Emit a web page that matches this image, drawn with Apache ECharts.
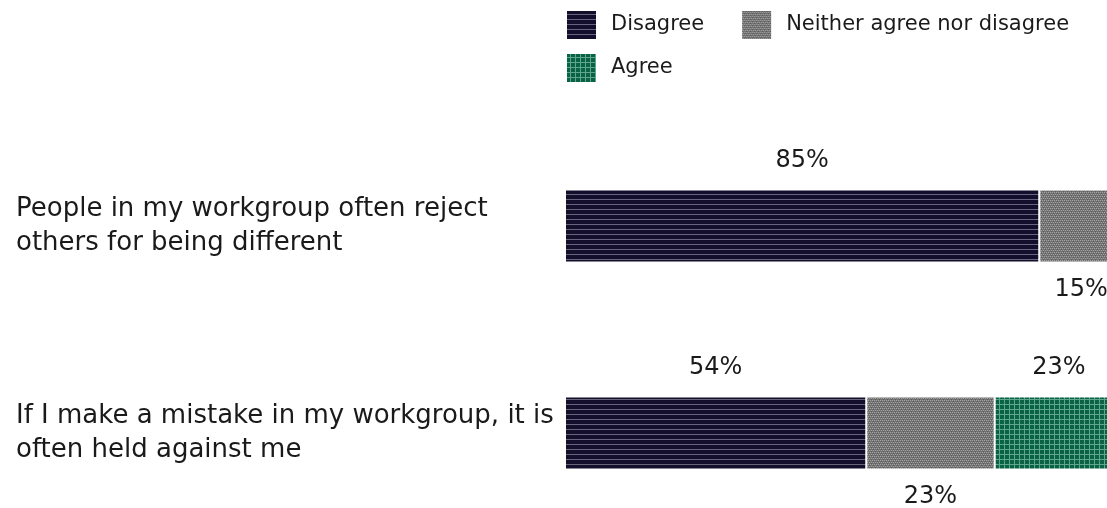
<!DOCTYPE html>
<html><head><meta charset="utf-8">
<script src="https://cdn.jsdelivr.net/npm/echarts@6/dist/echarts.min.js"></script>
<style>html,body{margin:0;padding:0;background:#fff;overflow:hidden}#c{width:1130px;height:540px}</style>
</head><body><div id="c"></div>
<script>
const categories = ['People in my workgroup often reject\nothers for being different', 'If I make a mistake in my workgroup, it is\noften held against me'];
const seriesNames = ['Disagree', 'Neither agree nor disagree', 'Agree'];
const disagree = [85, 54];
const neither = [15, 23];
const agree = [0, 23];
const labelPos = ['top', 'bottom', 'top'];

function pat(w, h, draw) {
  const c = document.createElement('canvas'); c.width = w; c.height = h;
  const g = c.getContext('2d'); draw(g, w, h); return c;
}
const pDis = pat(8, 5, (g, w, h) => { g.fillStyle = '#120e2c'; g.fillRect(0,0,w,h); g.fillStyle = '#67647c'; g.fillRect(0,4,w,1); });
const pNei = pat(4, 4, (g, w, h) => {
  g.fillStyle = '#727272'; g.fillRect(0,0,w,h);
  g.fillStyle = '#a3a3a3'; g.fillRect(0,0,1,1); g.fillRect(2,0,1,1); g.fillRect(1,2,1,1); g.fillRect(3,2,1,1);
  g.fillStyle = '#5a5a5a'; g.fillRect(1,1,1,1); g.fillRect(3,3,1,1);
});
const pAgr = pat(5, 5, (g, w, h) => { g.fillStyle = '#0a6246'; g.fillRect(0,0,w,h); g.fillStyle = '#5fa68a'; g.fillRect(4,0,1,h); g.fillRect(0,4,w,1); });
const pats = [pDis, pNei, pAgr];
const values = [disagree, neither, agree];

const chart = echarts.init(document.getElementById('c'), null, {renderer: 'canvas'});
const font = '"DejaVu Sans", sans-serif';
const legTxt = {fontSize: 21, color: '#1a1a1a', padding: [0, 0, 0, 9], fontFamily: font};
chart.setOption({
  animation: false,
  textStyle: {fontFamily: font},
  legend: [
    {data: seriesNames.slice(0, 2), icon: 'rect', left: 565, top: 9, padding: 0, itemWidth: 31, itemHeight: 30, itemGap: 36, textStyle: legTxt},
    {data: seriesNames.slice(2), icon: 'rect', left: 565, top: 52, padding: 0, itemWidth: 31, itemHeight: 30, textStyle: legTxt}
  ],
  grid: {left: 565, width: 558, top: 122.5, height: 414, containLabel: false},
  xAxis: {type: 'value', min: 0, max: 100, show: false},
  yAxis: {type: 'category', data: categories, inverse: true,
    axisLine: {show: false}, axisTick: {show: false},
    axisLabel: {align: 'left', margin: 549, fontSize: 26, lineHeight: 34, color: '#1a1a1a', fontFamily: font}},
  series: seriesNames.map((n, i) => ({
    name: n, type: 'bar', stack: 'a', barWidth: 73, data: values[i],
    itemStyle: {color: {image: pats[i], repeat: 'repeat'}, borderColor: '#fff', borderWidth: 1},
    label: {show: true, position: labelPos[i], distance: labelPos[i] === 'top' ? 17 : 15,
      fontSize: 24, color: '#1a1a1a', fontFamily: font,
      formatter: p => p.value ? p.value + '%' : ''}
  }))
});
</script></body></html>
